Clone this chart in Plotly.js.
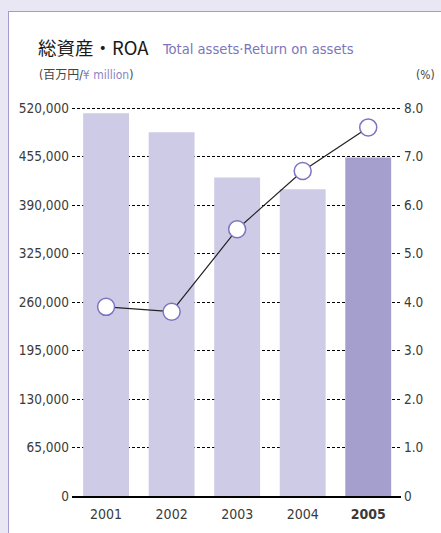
<!DOCTYPE html>
<html>
<head>
<meta charset="utf-8">
<script src="https://cdn.plot.ly/plotly-3.0.1.min.js"></script>
<style>
html,body{margin:0;padding:0;background:#e9e7f3;}
#panel{position:absolute;left:8px;top:11px;width:440px;height:530px;background:#ffffff;border-left:1.5px solid #a19bd1;border-top:1.5px solid #a19bd1;}
#chart{position:absolute;left:0;top:0;width:441px;height:533px;}
</style>
</head>
<body>
<div id="panel"></div>
<div id="chart"></div>
<script>
const years = ['2001','2002','2003','2004','2005'];
const yearLabels = ['2001','2002','2003','2004','<b>2005</b>'];
const totalAssets = [513000, 487500, 427000, 411000, 453600];
const roa = [3.9, 3.8, 5.5, 6.7, 7.6];
const leftTicks = [0,65000,130000,195000,260000,325000,390000,455000,520000];
const leftTickText = ['0','65,000','130,000','195,000','260,000','325,000','390,000','455,000','520,000'];
const rightTicks = [0,1,2,3,4,5,6,7,8];
const rightTickText = ['0','1.0','2.0','3.0','4.0','5.0','6.0','7.0','8.0'];

const barColors = ['#cdcbe6','#cdcbe6','#cdcbe6','#cdcbe6','#a49fcc'];
const condensed = '"DejaVu Sans Condensed","Liberation Sans Narrow",sans-serif';
const tickFont = {family:condensed, size:13.5, color:'#3a3a3a'};

const traces = [
  {type:'bar', x:years, y:totalAssets, marker:{color:barColors}, width:0.7, hoverinfo:'none'},
  {type:'scatter', mode:'lines+markers', x:years, y:roa, yaxis:'y2',
   line:{color:'#222222', width:1.2},
   marker:{size:17, color:'#ffffff', line:{color:'#7b74c0', width:1.5}}, hoverinfo:'none'}
];

const layout = {
  width:441, height:533,
  paper_bgcolor:'rgba(0,0,0,0)', plot_bgcolor:'rgba(0,0,0,0)',
  showlegend:false,
  margin:{l:72, r:40, t:108, b:37},
  bargap:0.3,
  xaxis:{type:'category', range:[-0.52,4.5], tickvals:years, ticktext:yearLabels,
    showline:true, linecolor:'#000000', linewidth:1.5, ticks:'', showgrid:false,
    tickfont:{family:condensed, size:14, color:'#3a3a3a'}, ticklabelstandoff:5, fixedrange:true},
  yaxis:{range:[0,520000], tickvals:leftTicks, ticktext:leftTickText, showgrid:true,
    gridcolor:'#000000', gridwidth:1, griddash:'3px,2px', zeroline:false, ticks:'',
    tickfont:tickFont, ticklabelstandoff:2},
  yaxis2:{range:[0,8], overlaying:'y', side:'right', tickvals:rightTicks, ticktext:rightTickText,
    showgrid:false, zeroline:false, ticks:'', tickfont:tickFont, ticklabelstandoff:2},
  shapes:[
    {type:'line', xref:'paper', yref:'paper', x0:0, x1:1, y0:0.9987, y1:0.9987,
     line:{color:'#000000', width:1, dash:'3px,2px'}, layer:'below'}
  ],
  annotations:[
    {xref:'paper', yref:'paper', x:-0.108, y:1.0, yshift:61, xanchor:'left', yanchor:'middle', showarrow:false,
     text:'総資産・ROA', font:{family:'"Noto Sans CJK JP",sans-serif', size:18.5, color:'#1a1a1a'}},
    {xref:'paper', yref:'paper', x:0.268, y:1.0, yshift:60, xanchor:'left', yanchor:'middle', showarrow:false,
     text:'Total assets·Return on assets', font:{family:condensed, size:14.6, color:'#7b76bb'}},
    {xref:'paper', yref:'paper', x:-0.105, y:1.0, yshift:33, xanchor:'left', yanchor:'middle', showarrow:false,
     text:'(百万円/<span style="color:#8a84c4">¥ million</span>)', font:{family:'"DejaVu Sans Condensed","Noto Sans CJK JP",sans-serif', size:12, color:'#444444'}},
    {xref:'paper', yref:'paper', x:1.0, xshift:36, y:1.0, yshift:33, xanchor:'right', yanchor:'middle', showarrow:false,
     text:'(%)', font:{family:condensed, size:12, color:'#444444'}}
  ]
};

Plotly.newPlot('chart', traces, layout, {displayModeBar:false, staticPlot:true});
</script>
</body>
</html>
